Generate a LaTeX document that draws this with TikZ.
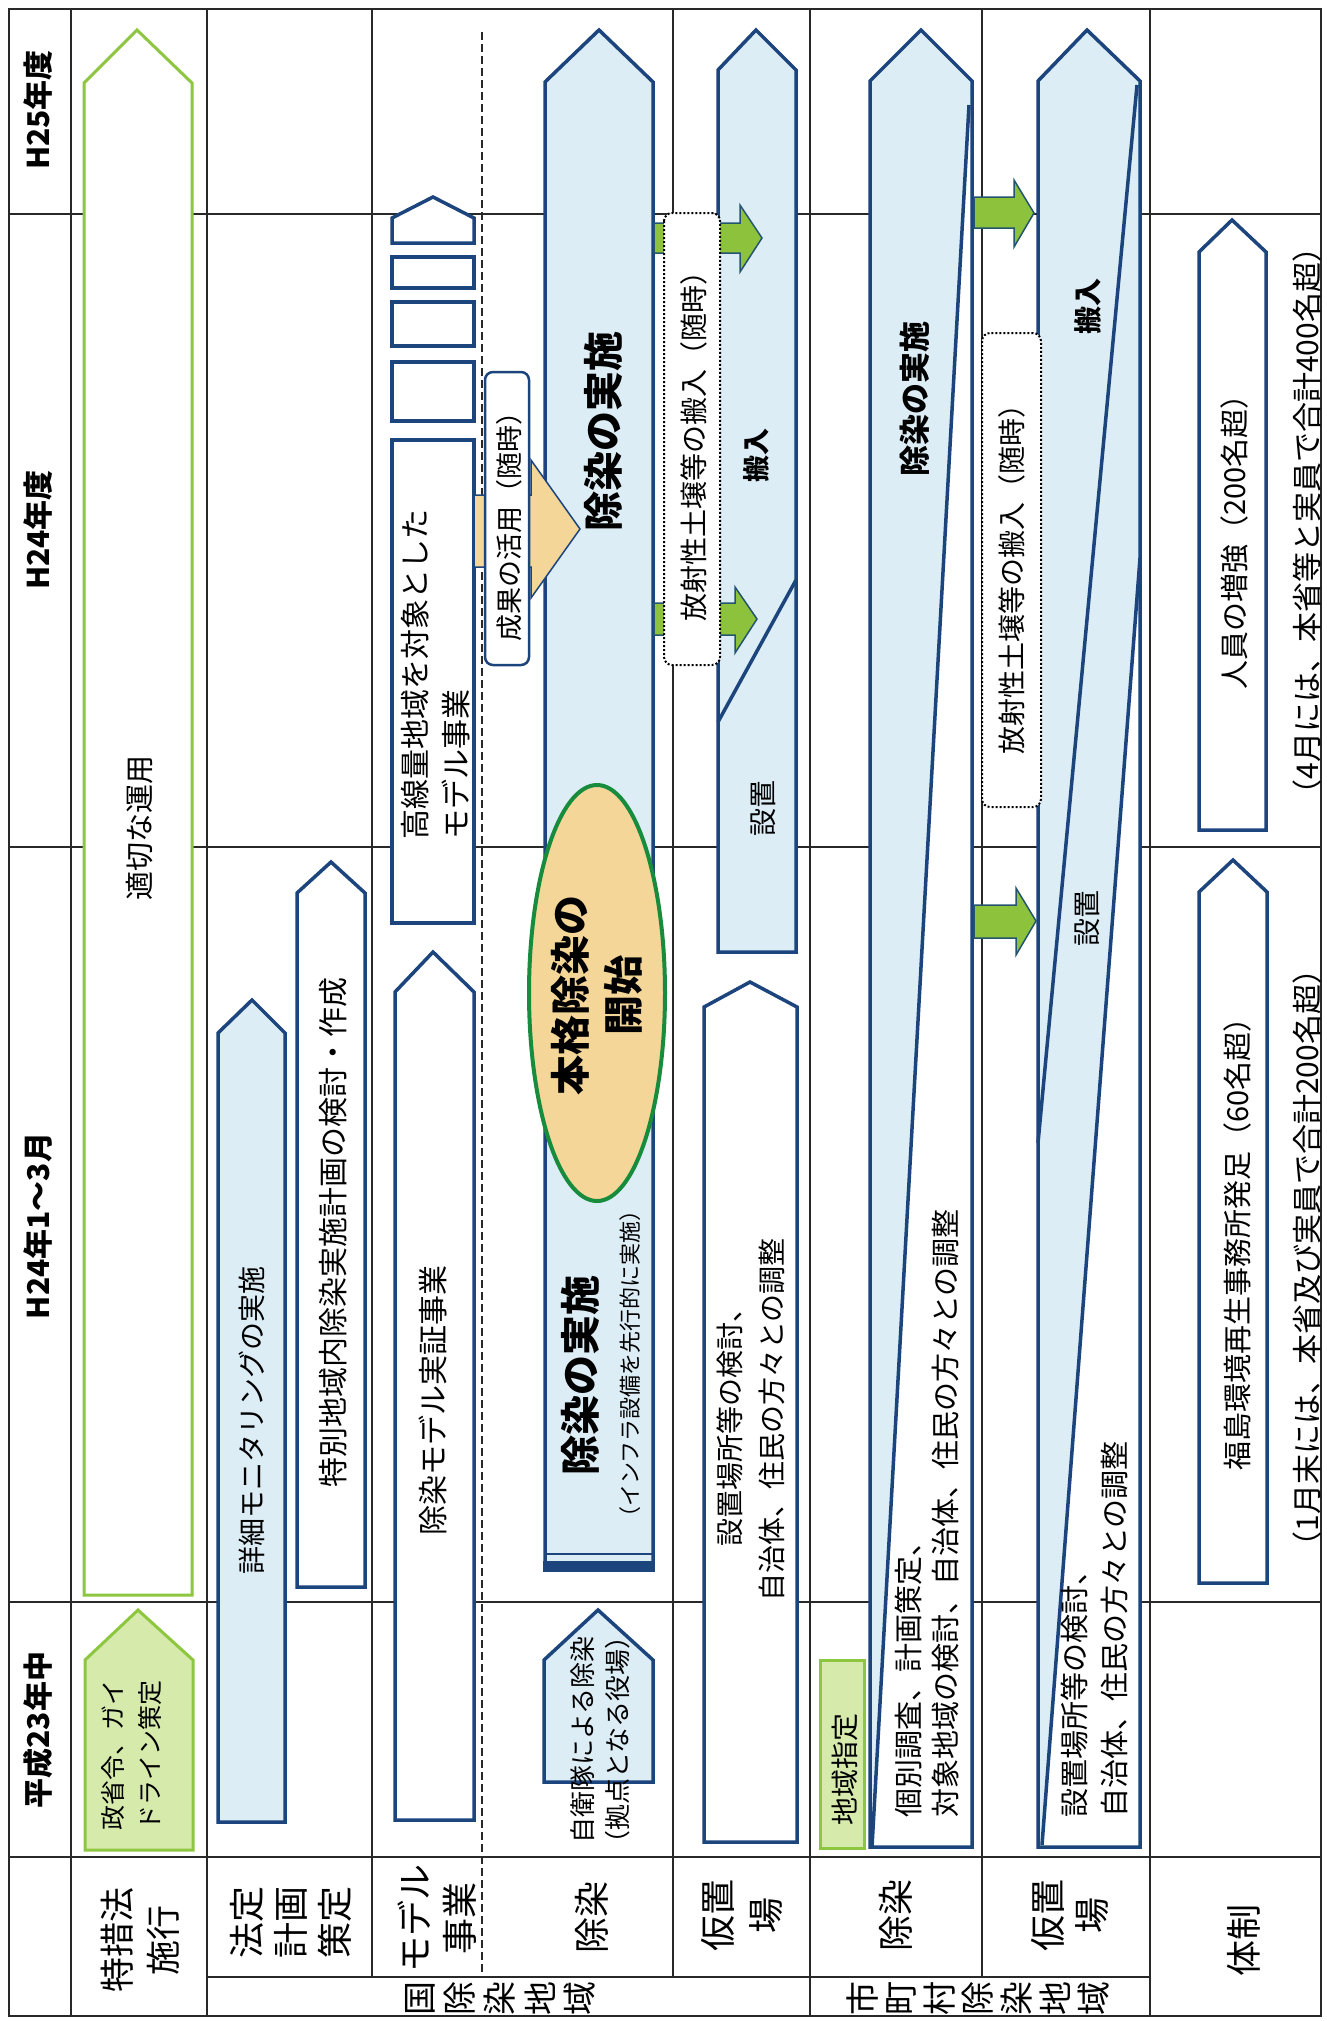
\documentclass[tikz,border=0pt]{standalone}
\usepackage{fontspec}
\setmainfont{Noto Sans CJK JP}
\definecolor{bluec}{RGB}{28,68,125}
\definecolor{lblue}{RGB}{221,237,246}
\definecolor{greenc}{RGB}{141,198,63}
\definecolor{lgreen}{RGB}{214,234,172}
\definecolor{gridc}{RGB}{40,40,40}
\definecolor{tanc}{RGB}{244,214,152}
\definecolor{dgreen}{RGB}{22,140,60}
\definecolor{garrowc}{RGB}{141,195,60}
\definecolor{garrowd}{RGB}{35,85,110}
\tikzset{
  gridl/.style={draw=gridc, line width=2pt},
  bfill/.style={draw=bluec, line width=3.5pt, fill=lblue},
  wfill/.style={draw=bluec, line width=3.5pt, fill=white},
  outl/.style={draw=bluec, line width=3.5pt},
  dline/.style={draw=bluec, line width=3.5pt},
  gout/.style={draw=greenc, line width=3pt, fill=white},
  gtag/.style={draw=greenc, line width=3pt, fill=lgreen},
  dotbox/.style={draw=black, line width=2pt, dash pattern=on 2pt off 2pt, fill=white, rounded corners=8pt},
  garrow/.style={fill=garrowc, draw=garrowd, line width=1.5pt},
  txt/.style={rotate=90, inner sep=0pt, align=center},
  fs/.style 2 args={font=\fontsize{#1}{#2}\selectfont},
  fsb/.style 2 args={font=\fontsize{#1}{#2}\selectfont\bfseries},
}
\begin{document}
\begin{tikzpicture}[x=1pt, y=-1pt]
\fill[white] (0,0) rectangle (1326,2021);
\useasboundingbox (0,0) rectangle (1326,2021);
% ---------- grid ----------
\draw[gridl] (9,9) rectangle (1321,2016);
\foreach \x in {71,207,810,1150} \draw[gridl] (\x,9) -- (\x,2016);
\foreach \x in {372,673,982} \draw[gridl] (\x,9) -- (\x,1977);
\draw[gridl, dash pattern=on 8pt off 4pt] (482,32) -- (482,1977);
\foreach \y in {214,847,1602,1857} \draw[gridl] (9,\y) -- (1321,\y);
\draw[gridl] (207,1977) -- (1150,1977);
% ---------- 特措法施行 ----------
\draw[gout] (84,1595) -- (84,83) -- (137,30) -- (192,83) -- (192,1595) -- cycle;
\draw[gtag] (85,1850) -- (85,1660) -- (138,1610) -- (193,1660) -- (193,1850) -- cycle;
% ---------- 法定計画策定 ----------
\draw[bfill] (218,1822) -- (218,1033) -- (252,1000) -- (285,1033) -- (285,1822) -- cycle;
\draw[wfill] (297,1587) -- (297,893) -- (331,862) -- (365,893) -- (365,1587) -- cycle;
% ---------- モデル事業 ----------
\draw[wfill] (392,243) -- (392,218) -- (433,197) -- (474,218) -- (474,243) -- cycle;
\draw[wfill] (392,257) rectangle (474,288);
\draw[wfill] (392,302) rectangle (474,346);
\draw[wfill] (392,362) rectangle (474,421);
\draw[wfill] (392,440) rectangle (474,923);
\draw[wfill] (395,1820) -- (395,992) -- (433,952) -- (474,992) -- (474,1820) -- cycle;
% ---------- 国 除染 ----------
\draw[bfill] (545,1570) -- (545,82) -- (599,30) -- (653,82) -- (653,1570) -- cycle;
\fill[bluec] (543,1561) rectangle (655,1572);
\draw[bluec, line width=2pt] (545,1554) -- (653,1554);
\draw[bfill] (544,1782) -- (544,1660) -- (598,1610) -- (653,1660) -- (653,1782) -- cycle;
% ---------- 国 仮置場 ----------
\draw[bfill] (718,952) -- (718,70) -- (756,30) -- (796,70) -- (796,952) -- cycle;
\draw[dline] (718,722) -- (796,580);
\draw[wfill] (704,1842) -- (704,1007) -- (750,982) -- (797,1007) -- (797,1842) -- cycle;
% ---------- 市町村 除染 ----------
\fill[white] (870,1847) -- (870,81) -- (921,30) -- (972,81) -- (972,1847) -- cycle;
\fill[lblue] (870,1847) -- (870,81) -- (921,30) -- (972,81) -- (970,105) -- cycle;
\draw[outl] (870,1847) -- (870,81) -- (921,30) -- (972,81) -- (972,1847) -- cycle;
\draw[dline] (969,105) -- (872,1847);
% ---------- 市町村 仮置場 ----------
\fill[white] (1038,1847) -- (1038,81) -- (1087,30) -- (1140,81) -- (1140,1847) -- cycle;
\fill[lblue] (1038,1847) -- (1038,81) -- (1087,30) -- (1140,81) -- (1140,558) -- (1042,1845) -- cycle;
\draw[outl] (1038,1847) -- (1038,81) -- (1087,30) -- (1140,81) -- (1140,1847) -- cycle;
\draw[dline] (1137,85) -- (1038,1143);
\draw[dline] (1140,558) -- (1042,1845);
% ---------- 体制 ----------
\draw[wfill] (1199,830) -- (1199,252) -- (1232,220) -- (1266,252) -- (1266,830) -- cycle;
\draw[wfill] (1199,1583) -- (1199,892) -- (1233,860) -- (1267,892) -- (1267,1583) -- cycle;
% ---------- green arrows ----------
\draw[garrow] (654,223) -- (740,223) -- (740,205) -- (762,238) -- (740,272) -- (740,253) -- (654,253) -- cycle;
\draw[garrow] (654,603) -- (735,603) -- (735,587) -- (757,619) -- (735,653) -- (735,635) -- (654,635) -- cycle;
\draw[garrow] (974,197) -- (1014,197) -- (1014,180) -- (1034,213) -- (1014,247) -- (1014,228) -- (974,228) -- cycle;
\draw[garrow] (974,905) -- (1016,905) -- (1016,888) -- (1036,921) -- (1016,955) -- (1016,938) -- (974,938) -- cycle;
% ---------- dotted boxes ----------
\draw[dotbox] (664,213) rectangle (720,665);
\draw[dotbox] (982,333) rectangle (1041,807);
% ---------- tan arrow, tag, ellipse ----------
\draw[fill=tanc, draw=bluec, line width=1.5pt] (474,495) -- (531,495) -- (531,460) -- (580,529) -- (531,598) -- (531,567) -- (474,567) -- cycle;
\draw[draw=bluec, line width=2.5pt, fill=white, rounded corners=8pt] (485,372) rectangle (529,665);
\draw[fill=tanc, draw=dgreen, line width=4pt] (597,993) ellipse [x radius=68, y radius=208];
\draw[gtag] (820,1660) rectangle (864,1848);
% ---------- time headers ----------
\node[txt, fsb={30}{36}] (h25) at (38,110) {H25年度};
\node[txt, fsb={30}{36}] (h24) at (38,530) {H24年度};
\node[txt, fsb={30}{36}] (h24q) at (38,1226) {H24年1〜3月};
\node[txt, fsb={30}{36}] (h23) at (38,1730) {平成23年中};
% ---------- row headers ----------
\node[txt, fs={35}{46}] (r1) at (140,1940) {特措法\\施行};
\node[txt, fs={36}{44}] (r2) at (291,1922) {法定\\計画\\策定};
\node[txt, fs={36}{45}] (r3) at (437,1918) {モデル\\事業};
\node[txt, fs={36}{44}] (r4) at (592,1917) {除染};
\node[txt, fs={36}{48}] (r5) at (742,1915) {仮置\\場};
\node[txt, fs={36}{44}] (r6) at (896,1915) {除染};
\node[txt, fs={36}{44}] (r7) at (1070,1915) {仮置\\場};
\node[txt, fs={36}{44}] (r8) at (1244,1940) {体制};
\foreach \c [count=\i] in {国,除,染,地,域}
  \node[txt, fs={34}{40}] (ga\i) at ({500+(\i-3)*40},1998) {\c};
\foreach \c [count=\i] in {市,町,村,除,染,地,域}
  \node[txt, fs={34}{40}] (gb\i) at ({978+(\i-4)*38.5},1998) {\c};
% ---------- contents ----------
\node[txt, fs={29}{35}] (t1) at (140,828) {適切な運用};
\node[txt, fs={25}{37}] (t2) at (132,1755) {政省令、ガイ\\ドライン策定};
\node[txt, fs={28}{34}] (t3) at (252,1420) {詳細モニタリングの実施};
\node[txt, fs={30}{36}] (t4) at (333,1232) {特別地域内除染実施計画の検討・作成};
\node[txt, fs={30}{41}, align=left, anchor=west] (t5) at (436,840) {高線量地域を対象とした\\モデル事業};
\node[txt, fs={30}{36}] (t6) at (433,1400) {除染モデル実証事業};
\node[txt, fsb={40}{48}] (t7) at (603,431) {除染の実施};
\node[txt, fsb={40}{48}] (t8) at (580,1375) {除染の実施};
\node[txt, fs={22}{26}] (t9) at (630,1364) {（インフラ設備を先行的に実施）};
\node[txt, fsb={40}{53}] (t10) at (597,995) {本格除染の\\開始};
\node[txt, fs={26}{35}] (t11) at (600,1740) {自衛隊による除染\\（拠点となる役場）};
\node[txt, fsb={27}{32}] (t12) at (756,455) {搬入};
\node[txt, fs={28}{32}] (t13) at (763,808) {設置};
\node[txt, fs={28}{34}] (t14) at (694,439) {放射性土壌等の搬入（随時）};
\node[txt, fs={27}{32}] (t15) at (509,520) {成果の活用（随時）};
\node[txt, fs={28}{42}] (t16) at (751,1420) {設置場所等の検討、\\自治体、住民の方々との調整};
\node[txt, fsb={31}{36}] (t17) at (915,399) {除染の実施};
\node[txt, fs={29}{37}, align=left, anchor=west] (t18) at (927,1818) {個別調査、計画策定、\\対象地域の検討、自治体、住民の方々との調整};
\node[txt, fs={28}{32}] (t19) at (845,1769) {地域指定};
\node[txt, fs={28}{34}] (t20) at (1012,572) {放射性土壌等の搬入（随時）};
\node[txt, fsb={28}{32}] (t21) at (1088,306) {搬入};
\node[txt, fs={28}{32}] (t22) at (1087,918) {設置};
\node[txt, fs={29}{40}, align=left, anchor=west] (t23) at (1094,1818) {設置場所等の検討、\\自治体、住民の方々との調整};
\node[txt, fs={29}{34}] (t24) at (1234,535) {人員の増強（200名超）};
\node[txt, fs={29}{34}] (t25) at (1237,1237) {福島環境再生事務所発足（60名超）};
\node[txt, fs={30}{34}] (t26) at (1307,521) {（4月には、本省等と実員で合計400名超）};
\node[txt, fs={30}{34}] (t27) at (1307,1258) {（1月末には、本省及び実員で合計200名超）};
\end{tikzpicture}
\end{document}
